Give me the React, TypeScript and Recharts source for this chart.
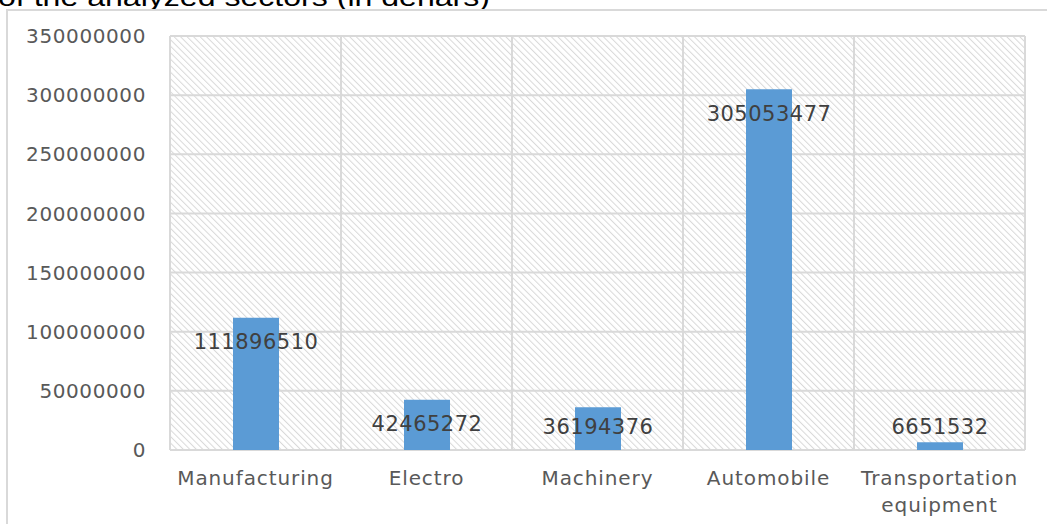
import { BarChart, Bar, XAxis, YAxis, CartesianGrid, LabelList } from 'recharts';

const sectors = ['Manufacturing', 'Electro', 'Machinery', 'Automobile', 'Transportation equipment'];
const amounts = [111896510, 42465272, 36194376, 305053477, 6651532];
const yTicks = [0, 50000000, 100000000, 150000000, 200000000, 250000000, 300000000, 350000000];
const title = 'of the analyzed sectors (in denars)';

const data = sectors.map((sector, i) => ({ sector, amount: amounts[i] }));

const font = 'DejaVu Sans';

const SectorTick = ({ x, y, payload }: any) => {
  const lines: string[] = payload.value.length > 15 ? payload.value.split(' ') : [payload.value];
  return (
    <text x={x} y={y} textAnchor='middle' fill='#595959' fontSize={20} letterSpacing={0.9} fontFamily={font}>
      {lines.map((line, i) => (
        <tspan key={i} x={x} dy={i === 0 ? 27 : 27}>
          {line}
        </tspan>
      ))}
    </text>
  );
};

const ValueLabel = ({ x, y, width, value }: any) => {
  // label sits inside the bar top, pushed up for the short bars
  const cy = Math.min(y + 24, 426);
  return (
    <text
      x={x + width / 2}
      y={cy}
      dy='0.36em'
      textAnchor='middle'
      fill='#404040'
      fontSize={21}
      letterSpacing={0.5}
      fontFamily={font}
    >
      {value}
    </text>
  );
};

const App = () => {
  return (
    <div style={{ position: 'absolute', left: 0, top: 0, width: 1047, height: 524, overflow: 'hidden', background: '#fff' }}>
      <svg width={1047} height={30} style={{ position: 'absolute', left: 0, top: 0 }}>
        <text x={-2} y={6} fontSize={26} fontFamily='Liberation Sans' fill='#000' textLength={492} lengthAdjust='spacingAndGlyphs'>
          {title}
        </text>
      </svg>
      <div
        style={{
          position: 'absolute',
          left: 6,
          top: 9,
          width: 1100,
          height: 600,
          border: '2px solid #d9d9d9',
        }}
      />
      <div style={{ position: 'absolute', left: 0, top: 0 }}>
        <BarChart width={1047} height={524} data={data} margin={{ top: 36, right: 22, left: 0, bottom: 0 }}>
          <defs>
            <pattern id='hatch' patternUnits='userSpaceOnUse' width={4.6} height={4.6} patternTransform='rotate(-45)'>
              <rect width={4.6} height={4.6} fill='#ffffff' />
              <line x1={0} y1={0} x2={0} y2={4.6} stroke='#d9d9d9' strokeWidth={2} />
            </pattern>
          </defs>
          <CartesianGrid
            fill='url(#hatch)'
            stroke='#d9d9d9'
            strokeWidth={2}
            verticalCoordinatesGenerator={({ offset }: any) =>
              sectors.map((_, i) => offset.left + (i * offset.width) / sectors.length).concat(offset.left + offset.width)
            }
          />
          <XAxis
            dataKey='sector'
            height={74}
            axisLine={false}
            tickLine={false}
            interval={0}
            tick={<SectorTick />}
          />
          <YAxis
            width={170}
            domain={[0, 350000000]}
            ticks={yTicks}
            axisLine={false}
            tickLine={false}
            tickSize={0}
            tickMargin={24}
            tick={{ fill: '#595959', fontSize: 20, letterSpacing: 0.6, fontFamily: font }}
          />
          <Bar dataKey='amount' fill='#5b9bd5' barSize={46} isAnimationActive={false}>
            <LabelList dataKey='amount' content={<ValueLabel />} />
          </Bar>
        </BarChart>
      </div>
    </div>
  );
};

export default App;
